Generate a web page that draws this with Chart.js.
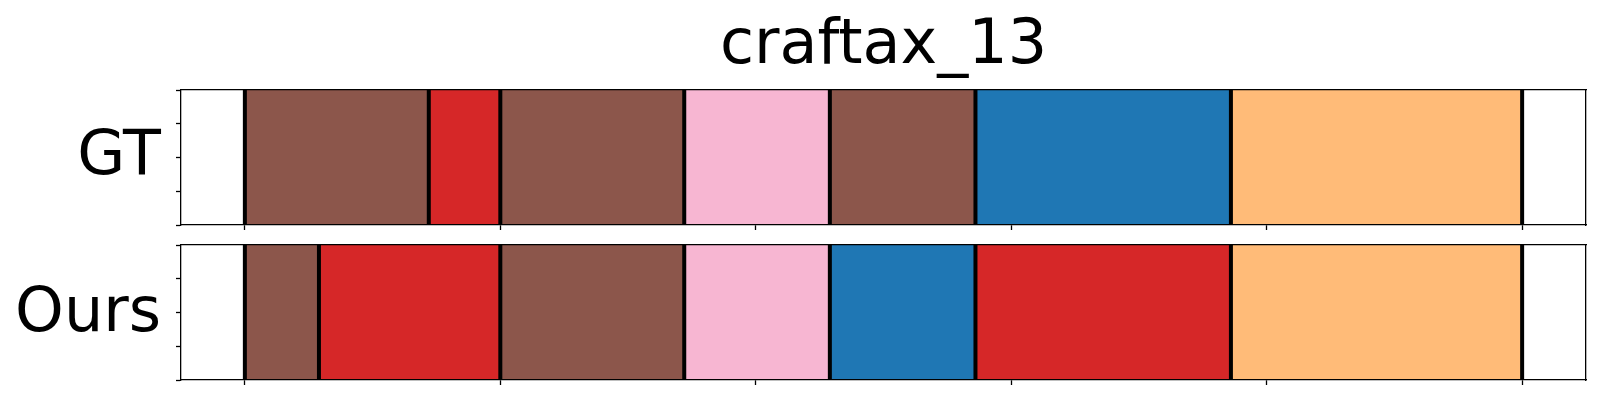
<!DOCTYPE html>
<html>
<head>
<meta charset="utf-8">
<script src="https://cdn.jsdelivr.net/npm/chart.js@4.4.1/dist/chart.umd.min.js"></script>
<style>
  body { margin: 0; background: #fff; }
  #wrap { position: relative; width: 1600px; height: 400px; overflow: hidden; }
  .txt { position: absolute; font-family: "DejaVu Sans", sans-serif; color: #000; line-height: 1; white-space: nowrap; }
  #title { left: 181px; width: 1405px; text-align: center; top: 10.5px; font-size: 62px; }
  .rowlbl { left: 0; width: 161px; text-align: right; font-size: 62px; }
  canvas { position: absolute; left: 0; }
</style>
</head>
<body>
<div id="wrap">
  <div class="txt" id="title"></div>
  <div class="txt rowlbl" id="lbl0" style="top:121.6px"></div>
  <div class="txt rowlbl" id="lbl1" style="top:278.6px"></div>
  <canvas id="c0" width="1600" height="240" style="top:0"></canvas>
  <canvas id="c1" width="1600" height="170" style="top:230px"></canvas>
</div>
<script>
// data (frame index along x, action class per segment)
const chartTitle = 'craftax_13';
const rowLabels = ['GT', 'Ours'];
const xTicks = [0, 100, 200, 300, 400, 500];
const yTicks = [0, 0.25, 0.5, 0.75, 1];

const gtBounds = [0, 72, 100, 172, 229, 286, 386, 500];
const gtClasses = [0, 1, 0, 2, 0, 3, 4];

const oursBounds = [0, 29, 100, 172, 229, 286, 386, 500];
const oursClasses = [0, 1, 0, 2, 3, 1, 4];

// class -> colour
const palette = ['#8c564b', '#d62728', '#f7b6d2', '#1f77b4', '#ffbb78'];

const xMin = -25, xMax = 525;

document.getElementById('title').textContent = chartTitle;
document.getElementById('lbl0').textContent = rowLabels[0];
document.getElementById('lbl1').textContent = rowLabels[1];

function buildDatasets(bounds, classes) {
  const sets = [];
  // one filled block per segment
  for (let i = 0; i < classes.length; i++) {
    sets.push({
      data: [{x: bounds[i], y: 1}, {x: bounds[i + 1], y: 1}],
      backgroundColor: palette[classes[i]],
      borderWidth: 0,
      pointRadius: 0,
      fill: 'origin',
      order: 2
    });
  }
  // black boundary lines
  const lines = [];
  for (const b of bounds) {
    lines.push({x: b, y: 0}, {x: b, y: 1}, {x: b, y: null});
  }
  sets.push({
    data: lines,
    borderColor: '#000',
    borderWidth: 4,
    pointRadius: 0,
    fill: false,
    spanGaps: false,
    order: 1
  });
  return sets;
}

function makeChart(id, bounds, classes, padding) {
  const tickGrid = {display: true, drawOnChartArea: false, drawTicks: true, tickLength: 5, tickColor: '#000', tickWidth: 1.3};
  const border = {display: true, color: '#000', width: 1.3, z: 1};
  return new Chart(document.getElementById(id), {
    type: 'line',
    data: {datasets: buildDatasets(bounds, classes)},
    options: {
      responsive: false,
      animation: false,
      devicePixelRatio: 1,
      layout: {padding: padding},
      plugins: {legend: {display: false}, tooltip: {enabled: false}},
      scales: {
        x: {
          type: 'linear', position: 'bottom', min: xMin, max: xMax,
          afterBuildTicks: ax => { ax.ticks = xTicks.map(v => ({value: v})); },
          afterFit: ax => { ax.height = 10; },
          ticks: {display: false}, grid: tickGrid, border: border
        },
        y: {
          type: 'linear', position: 'left', min: 0, max: 1,
          afterBuildTicks: ax => { ax.ticks = yTicks.map(v => ({value: v})); },
          afterFit: ax => { ax.width = 20; },
          ticks: {display: false}, grid: tickGrid, border: border
        },
        x2: {
          type: 'linear', position: 'top', min: xMin, max: xMax,
          afterFit: ax => { ax.height = 0; },
          ticks: {display: false}, grid: {display: false}, border: border
        },
        y2: {
          type: 'linear', position: 'right', min: 0, max: 1,
          afterFit: ax => { ax.width = 0; },
          ticks: {display: false}, grid: {display: false}, border: border
        }
      }
    }
  });
}

makeChart('c0', gtBounds, gtClasses, {left: 161, right: 14, top: 90, bottom: 5});
makeChart('c1', oursBounds, oursClasses, {left: 161, right: 14, top: 15, bottom: 10});
</script>
</body>
</html>
